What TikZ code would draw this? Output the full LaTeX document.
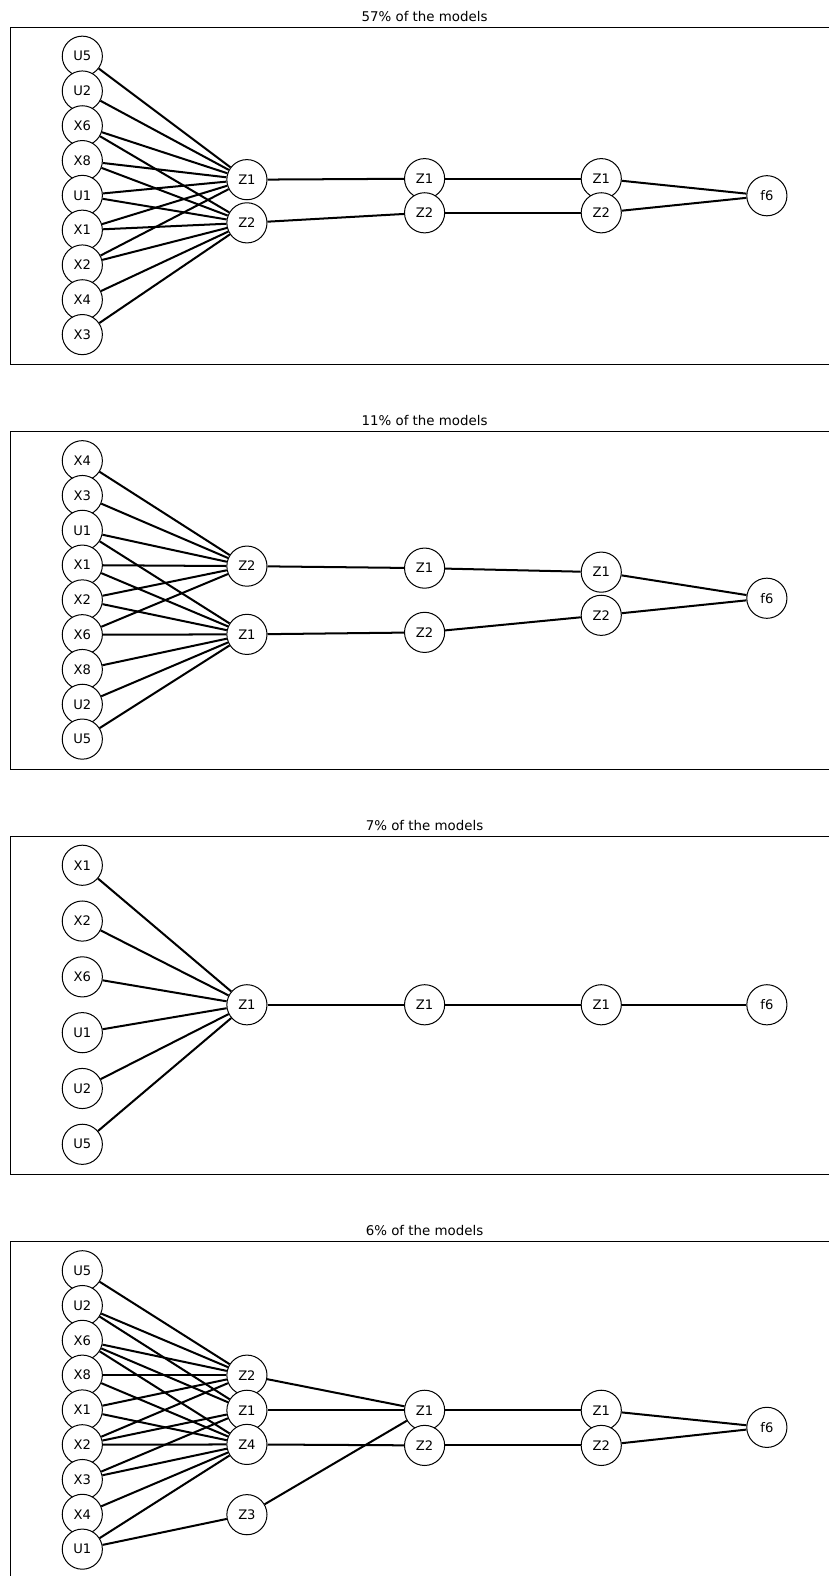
\documentclass[tikz,border=0pt]{standalone}
\usepackage{fontspec}
\setmainfont{DejaVu Sans}
\usetikzlibrary{automata, positioning}
\tikzset{
-, % undirected edges
every state/.style={draw=black, fill=white, line width=0.75pt, minimum size=30pt, inner sep=0pt, font=\fontsize{9.8}{11}\selectfont}, % every circle
link/.style={line width=1.5pt}, % the connectors
panel/.style={line width=0.6pt}, % box round each network
caption/.style={font=\fontsize{10}{12}\selectfont},
}

\begin{document}
\begin{tikzpicture}[x=0.75pt, y=-0.75pt]
\useasboundingbox (0,0) rectangle (825.9,1570.1);

% 57%
\begin{scope}[shift={(0,27)}, node distance=26pt]
  \draw[panel] (10,0) rectangle (850,336);
  \node[caption] (ta) at (423,-11) {57\% of the models};
  \node[state] (aU5) at (82,29) {U5};
  \node[state, below of=aU5] (aU2) {U2};
  \node[state, below of=aU2] (aX6) {X6};
  \node[state, below of=aX6] (aX8) {X8};
  \node[state, below of=aX8] (aU1) {U1};
  \node[state, below of=aU1] (aX1) {X1};
  \node[state, below of=aX1] (aX2) {X2};
  \node[state, below of=aX2] (aX4) {X4};
  \node[state, below of=aX4] (aX3) {X3};
  \node[state] (a1Z1) at (246,152) {Z1};
  \node[state] (a1Z2) at (246,195) {Z2};
  \node[state] (a2Z1) at (423,151) {Z1};
  \node[state] (a2Z2) at (423,185) {Z2};
  \node[state] (a3Z1) at (599,151) {Z1};
  \node[state] (a3Z2) at (599,185) {Z2};
  \node[state] (af6) at (764,168) {f6};

  \draw[link] (aU5) edge (a1Z1)
  (aU2) edge (a1Z1)
  (aX6) edge (a1Z1) (aX6) edge (a1Z2)
  (aX8) edge (a1Z1) (aX8) edge (a1Z2)
  (aU1) edge (a1Z1) (aU1) edge (a1Z2)
  (aX1) edge (a1Z1) (aX1) edge (a1Z2)
  (aX2) edge (a1Z1) (aX2) edge (a1Z2)
  (aX4) edge (a1Z2)
  (aX3) edge (a1Z2)
  (a1Z1) edge (a2Z1)
  (a1Z2) edge (a2Z2)
  (a2Z1) edge (a3Z1)
  (a2Z2) edge (a3Z2)
  (a3Z1) edge (af6)
  (a3Z2) edge (af6);
\end{scope}

% 11%
\begin{scope}[shift={(0,430)}, node distance=26pt]
  \draw[panel] (10,0) rectangle (850,337);
  \node[caption] (tb) at (423,-11) {11\% of the models};
  \node[state] (bX4) at (82,29) {X4};
  \node[state, below of=bX4] (bX3) {X3};
  \node[state, below of=bX3] (bU1) {U1};
  \node[state, below of=bU1] (bX1) {X1};
  \node[state, below of=bX1] (bX2) {X2};
  \node[state, below of=bX2] (bX6) {X6};
  \node[state, below of=bX6] (bX8) {X8};
  \node[state, below of=bX8] (bU2) {U2};
  \node[state, below of=bU2] (bU5) {U5};
  \node[state] (b1Z2) at (246,134) {Z2};
  \node[state] (b1Z1) at (246,202) {Z1};
  \node[state] (b2Z1) at (423,136) {Z1};
  \node[state] (b2Z2) at (423,200) {Z2};
  \node[state] (b3Z1) at (599,140) {Z1};
  \node[state] (b3Z2) at (599,183) {Z2};
  \node[state] (bf6) at (764,166) {f6};

  \draw[link] (bX4) edge (b1Z2)
  (bX3) edge (b1Z2)
  (bU1) edge (b1Z2) (bU1) edge (b1Z1)
  (bX1) edge (b1Z2) (bX1) edge (b1Z1)
  (bX2) edge (b1Z2) (bX2) edge (b1Z1)
  (bX6) edge (b1Z2) (bX6) edge (b1Z1)
  (bX8) edge (b1Z1)
  (bU2) edge (b1Z1)
  (bU5) edge (b1Z1)
  (b1Z2) edge (b2Z1)
  (b1Z1) edge (b2Z2)
  (b2Z1) edge (b3Z1)
  (b2Z2) edge (b3Z2)
  (b3Z1) edge (bf6)
  (b3Z2) edge (bf6);
\end{scope}

% 7%
\begin{scope}[shift={(0,833)}, node distance=41.7pt]
  \draw[panel] (10,0) rectangle (850,337);
  \node[caption] (tc) at (423,-11) {7\% of the models};
  \node[state] (cX1) at (82,29) {X1};
  \node[state, below of=cX1] (cX2) {X2};
  \node[state, below of=cX2] (cX6) {X6};
  \node[state, below of=cX6] (cU1) {U1};
  \node[state, below of=cU1] (cU2) {U2};
  \node[state, below of=cU2] (cU5) {U5};
  \node[state] (c1Z1) at (246,168) {Z1};
  \node[state] (c2Z1) at (423,168) {Z1};
  \node[state] (c3Z1) at (599,168) {Z1};
  \node[state] (cf6) at (764,168) {f6};

  \draw[link] (cX1) edge (c1Z1)
  (cX2) edge (c1Z1)
  (cX6) edge (c1Z1)
  (cU1) edge (c1Z1)
  (cU2) edge (c1Z1)
  (cU5) edge (c1Z1)
  (c1Z1) edge (c2Z1)
  (c2Z1) edge (c3Z1)
  (c3Z1) edge (cf6);
\end{scope}

% 6%
\begin{scope}[shift={(0,1237)}, node distance=26pt]
  \draw[panel] (10,0) rectangle (850,360);
  \node[caption] (td) at (423,-11) {6\% of the models};
  \node[state] (dU5) at (82,29) {U5};
  \node[state, below of=dU5] (dU2) {U2};
  \node[state, below of=dU2] (dX6) {X6};
  \node[state, below of=dX6] (dX8) {X8};
  \node[state, below of=dX8] (dX1) {X1};
  \node[state, below of=dX1] (dX2) {X2};
  \node[state, below of=dX2] (dX3) {X3};
  \node[state, below of=dX3] (dX4) {X4};
  \node[state, below of=dX4] (dU1) {U1};
  \node[state] (d1Z2) at (246,133) {Z2};
  \node[state] (d1Z1) at (246,168) {Z1};
  \node[state] (d1Z4) at (246,202) {Z4};
  \node[state] (d1Z3) at (246,272) {Z3};
  \node[state] (d2Z1) at (423,168) {Z1};
  \node[state] (d2Z2) at (423,203) {Z2};
  \node[state] (d3Z1) at (599,168) {Z1};
  \node[state] (d3Z2) at (599,203) {Z2};
  \node[state] (df6) at (764,185) {f6};

  \draw[link] (dU5) edge (d1Z2)
  (dU2) edge (d1Z2) (dU2) edge (d1Z1)
  (dX6) edge (d1Z2) (dX6) edge (d1Z1) (dX6) edge (d1Z4)
  (dX8) edge (d1Z2) (dX8) edge (d1Z4)
  (dX1) edge (d1Z2) (dX1) edge (d1Z4)
  (dX2) edge (d1Z2) (dX2) edge (d1Z1) (dX2) edge (d1Z4)
  (dX3) edge (d1Z1) (dX3) edge (d1Z4)
  (dX4) edge (d1Z4)
  (dU1) edge (d1Z4) (dU1) edge (d1Z3)
  (d1Z2) edge (d2Z1)
  (d1Z1) edge (d2Z1)
  (d1Z4) edge (d2Z2)
  (d1Z3) edge (d2Z1)
  (d2Z1) edge (d3Z1)
  (d2Z2) edge (d3Z2)
  (d3Z1) edge (df6)
  (d3Z2) edge (df6);
\end{scope}
\end{tikzpicture}
\end{document}
